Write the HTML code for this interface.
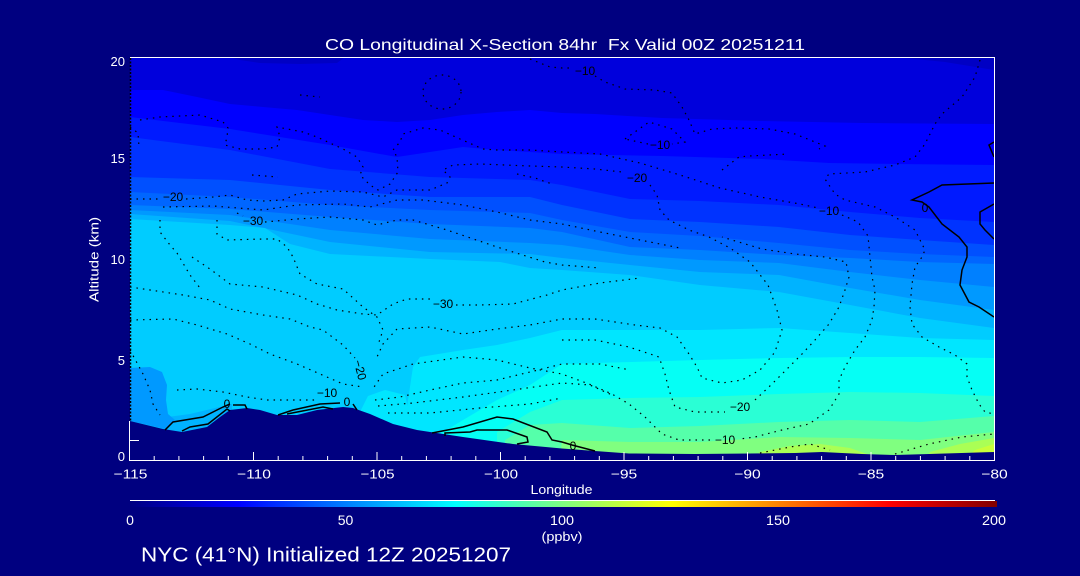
<!DOCTYPE html>
<html><head><meta charset="utf-8"><style>
html,body{margin:0;padding:0;background:#000080;}
svg{display:block;}
text{font-family:"Liberation Sans",sans-serif;}
</style></head><body>
<svg width="1080" height="576" viewBox="0 0 1080 576" xmlns="http://www.w3.org/2000/svg">
<defs>
<linearGradient id="jet" x1="0" x2="1" y1="0" y2="0">
<stop offset="0" stop-color="#000080"/><stop offset="0.125" stop-color="#0000ff"/><stop offset="0.375" stop-color="#00ffff"/><stop offset="0.625" stop-color="#ffff00"/><stop offset="0.875" stop-color="#ff0000"/><stop offset="1" stop-color="#800000"/>
</linearGradient>
<clipPath id="pc"><rect x="130" y="58" width="864" height="402"/></clipPath>
</defs>
<rect width="1080" height="576" fill="#000080"/>
<g clip-path="url(#pc)">
<rect x="130" y="58" width="864" height="402" fill="#0000dc"/>
<polygon fill="#0000c4" points="230,57 240,60 260,63 300,64 337,63 345,57"/>
<polygon fill="#0000c4" points="895,57 945,62 994,70 994,57"/>
<polygon fill="#0000ff" points="130,90 163,90 197,97 230,104 263,107 297,110 330,115 363,120 397,122 430,120 463,115 497,112 530,110 562,113 595,114 662,118 762,121 862,123 994,124 994,460 130,460"/>
<polygon fill="#001aff" points="130,117 230,129 330,145 397,157 430,152 463,147 497,150 562,154 662,156 762,159 829,163 895,164 994,165 994,460 130,460"/>
<polygon fill="#0033ff" points="130,137 230,150 330,169 430,177 530,180 562,185 630,199 700,201 779,205 850,212 920,218 994,222 994,460 130,460"/>
<polygon fill="#0050ff" points="130,177 230,180 330,190 430,197 530,197 562,205 630,219 700,222 779,227 850,235 920,240 994,245 994,460 130,460"/>
<polygon fill="#0066ff" points="130,192 230,197 330,205 430,210 530,213 562,220 630,232 700,236 779,243 850,250 920,254 994,257 994,460 130,460"/>
<polygon fill="#0080ff" points="130,205 230,209 330,217 430,224 530,228 562,232 630,247 700,250 779,255 850,258 920,262 994,264 994,460 130,460"/>
<polygon fill="#0099ff" points="130,210 230,215 330,230 430,239 530,243 562,245 630,255 700,260 779,263 850,272 920,280 994,287 994,460 130,460"/>
<polygon fill="#00b3ff" points="130,214 230,221 330,242 430,252 530,254 562,258 630,265 700,272 779,275 850,288 920,300 994,310 994,460 130,460"/>
<polygon fill="#00ccff" points="130,219 230,225 265,228 290,244 330,254 430,259 500,262 530,268 562,270 630,275 700,285 779,292 850,305 920,318 994,328 994,460 130,460"/>
<polygon fill="#00e6ff" points="405,460 405,432 408,400 413,367 420,357 463,350 497,345 530,338 562,330 630,330 700,330 779,328 850,333 920,338 994,340 994,460"/>
<polygon fill="#00e6ff" points="360,412 368,396 385,390 405,395 413,430 393,424 370,414"/>
<polygon fill="#05fff5" points="430,460 430,440 463,420 497,400 530,385 562,364 630,362 700,360 779,358 850,357 920,357 994,358 994,460"/>
<polygon fill="#2affd5" points="497,460 497,432 530,412 562,400 630,398 700,397 779,394 850,392 920,393 994,396 994,460"/>
<polygon fill="#55ffaa" points="505,460 505,440 530,425 562,423 630,428 700,426 779,422 850,420 920,422 994,416 994,460"/>
<polygon fill="#80ff80" points="560,460 562,440 630,442 700,442 779,437 850,438 920,440 994,432 994,460"/>
<polygon fill="#aaff55" points="750,460 760,452 790,446 820,444 850,448 870,455 875,460"/>
<polygon fill="#aaff55" points="925,460 930,452 960,444 994,438 994,460"/>
<polygon fill="#c8ff3a" points="965,460 975,450 994,444 994,460"/>
<polygon fill="#00b3ff" points="160,418 190,414 215,408 232,404 232,411 207,428 182,433 163,430"/>
<polygon fill="#0099ff" points="130,368 150,367 162,372 167,385 166,400 168,414 175,420 165,429 130,421"/>
<polygon fill="#000080" points="130,421 163,429 182,432 207,427 220,417 230,410 247,408 260,410 277,415 297,415 317,410 343,407 353,408 370,414 393,424 417,430 463,437 513,444 562,448.5 595,451 629,453.5 695,454 795,453 822,452 862,454 895,455 929,454 994,452 994,462 130,462"/>
<g fill="none" stroke="#000" stroke-width="1.2" stroke-dasharray="1.5 5">
<path d="M140,120 L160,117 L200,115 L223,122 L228,128 L227,137 L225,145 L240,149 L263,149 L277,147 L280,137 L277,127 L303,132 L317,137 L343,149 L357,157 L363,167 L360,175 L370,185 L378,190 L390,184 L398,172 L397,157 L393,150 L400,142 L403,134 L423,128 L440,130 L460,139 L483,149 L497,150 L530,150 L562,152 L600,154 L640,163 L680,175 L720,188 L760,197 L800,204 L818,208 M842,215 L858,222 L868,236 L870,257 L872,277 L875,290 L874,307 L872,320 L865,337 L855,350 L845,367 L839,380 L839,394 L829,410 L809,424 L782,430 L755,437 L740,439 M710,440 L679,440 L662,434 L645,417 L629,404 L612,394 L589,384 L562,374 L530,368 L497,360 L463,357 L413,364 L383,374 L372,390"/>
<path d="M130,199 L160,199 M186,199 L213,197 L230,195 L247,200 L263,201 L283,200 L297,194 L330,191 L363,192 L383,197 L397,190 L430,190 L447,183 L450,177 L443,170 L453,165 L480,164 L530,166 L562,167 L595,169 L622,172 M650,185 L657,195 L660,210 L669,220 L689,230 L709,237 L730,248 L750,262 L768,285 L777,310 L782,330 L775,352 L760,370 L742,380 L722,383 L702,378 L697,367 L689,354 L677,337 L660,328 L635,325 L595,319 L562,319 L530,325 L497,329 L463,334 L430,327 L397,329 L383,344 L377,357"/>
<path d="M980,60 L975,77 L962,97 L942,114 L935,124 L925,144 L915,157 L895,165 L865,172 L829,174 L825,179 L835,194 L845,200 L875,207 L895,217 L915,230 L925,250 L922,257 L915,267 L912,284 L910,307 L912,324 L922,337 L939,347 L955,355 L967,364 L967,377 L972,390 L979,404 L985,412 L994,414"/>
<path d="M562,340 L595,340 L629,347 L659,357 L665,374 L669,390 L675,407 L695,412 L725,412 M755,400 L772,384 L789,367 L802,354 L815,340 L829,324 L839,307 L845,290 L849,277 L846,262 L825,257 L795,254 L762,249 L722,237"/>
<path d="M163,207 L213,206 L263,210 L297,205 L343,204 L370,207 L397,200 L423,200 L463,205 L497,212 L530,220 L562,224 L600,232 L640,240 L680,248"/>
<path d="M237,213 L243,216 M265,222 L297,219 L330,217 L363,220 L377,225 L397,220 L413,220 L447,230 L497,247 L545,262 L562,265 L600,268"/>
<path d="M160,220 L160,232 L170,245 L177,253 L190,275 L200,288"/>
<path d="M217,220 L217,234 L227,240 L263,239 L277,239 L287,247 L293,257 L300,274 L317,284 L343,289 L363,307 L377,317 L383,330 L378,345"/>
<path d="M192,257 L210,269 L230,284 L263,287 L297,295 L317,304 L337,310 L363,314 L377,315 L393,304 L407,299 L430,299 M456,305 L480,305 L513,304 L547,295 L562,290 L600,283 L640,278"/>
<path d="M130,287 L150,290 L183,295 L210,300 L230,309 L263,315 L290,319 L310,327 L323,330 L343,345 L355,358"/>
<path d="M130,320 L173,319 L197,325 L227,334 L250,344 L270,354 L297,364 L320,374 L343,384 L363,387"/>
<path d="M130,350 L143,374 L150,390 L153,404 L160,415"/>
<path d="M177,390 L197,389 L223,392 L247,397 L267,400 L297,400 L318,400"/>
<path d="M375,400 L400,397 L430,390 L463,383 L497,380 L530,372 L562,364 L600,364 L630,370"/>
<path d="M378,406 L413,403 L463,397 L513,390 L562,383 L590,385 L612,395"/>
<path d="M388,413 L430,413 L480,408 L530,404 L562,398"/>
<path d="M760,453 L790,447 L810,444 L830,450 M895,454 L929,444 L962,437 L994,434"/>
<path d="M130,127 L138,133 L139,147"/>
<ellipse cx="442" cy="92" rx="19" ry="17"/>
<path d="M625,139 L649,122 L672,129 L685,142 L672,144 M648,144 L625,139"/>
<path d="M530,59 L550,67 L562,68 L572,68 M595,76 L605,82 L625,89 L655,90 L672,93 L682,107 L689,120 L695,134 L712,129 L735,128 L769,129 L795,134 L825,146 L819,149"/>
<path d="M300,95 L320,97 M252,175 L278,177 M517,174 L535,178 L552,184 M722,170 L739,157 L749,156 L789,154"/>
</g>
<g fill="none" stroke="#000" stroke-width="1.5">
<path d="M994,183 L942,185 L929,192 L912,200 L922,202 L929,207 L942,224 L959,237 L967,247 L967,257 L962,270 L960,285 L969,302 L979,307 L994,317"/>
<path d="M994,204 L980,212 L980,224 L985,230 L994,239"/>
<path d="M994,142 L989,145 L994,157"/>
<path d="M165,430 L173,422 L203,417 L223,407 L230,404 M182,431 L190,427 L208,424 L227,409 L230,411 M233,405 L245,405 L247,409"/>
<path d="M278,415 L293,410 L320,404 L340,403 M287,414 L323,407 L333,409 M353,404 L357,410"/>
<path d="M432,433 L463,427 L497,417 L513,419 L547,432 L552,440 L562,442 L572,445 L595,451 M445,436 L445,433 L470,432 L477,430 L507,430 L527,437 L528,442 L517,444"/>
</g>
<g font-size="12" fill="#000" text-anchor="middle">
<text x="173" y="201">−20</text>
<text x="253" y="225">−30</text>
<text x="443" y="308">−30</text>
<text x="360" y="374" transform="rotate(75 360 370)">−20</text>
<text x="327" y="397">−10</text>
<text x="347" y="406">0</text>
<text x="227" y="408">0</text>
<text x="660" y="149">−10</text>
<text x="585" y="75">−10</text>
<text x="637" y="182">−20</text>
<text x="829" y="215">−10</text>
<text x="925" y="212">0</text>
<text x="740" y="411">−20</text>
<text x="725" y="444">−10</text>
<text x="573" y="450">0</text>
</g>
</g>
<g stroke="#fff" stroke-width="1" fill="none">
<line x1="130" y1="57.5" x2="995" y2="57.5"/>
<line x1="994.5" y1="57" x2="994.5" y2="461"/>
<line x1="129.5" y1="421" x2="129.5" y2="461"/>
<line x1="129.5" y1="460.5" x2="995" y2="460.5"/>
<line x1="130" y1="440.5" x2="139" y2="440.5"/>
</g>
<line x1="130.5" y1="58" x2="130.5" y2="421" stroke="#000" stroke-width="1.5" stroke-dasharray="2 1.5"/>
<g stroke="#fff" stroke-width="1">
<path d="M253.5,452 V460 M377,452 V460 M500.5,452 V460 M624,452 V460 M747.5,452 V460 M871,452 V460"/>
<path d="M154.2,456 V460 M178.9,456 V460 M203.6,456 V460 M228.3,456 V460 M278.2,456 V460 M302.9,456 V460 M327.6,456 V460 M352.3,456 V460 M401.7,456 V460 M426.4,456 V460 M451.1,456 V460 M475.8,456 V460 M525.2,456 V460 M549.9,456 V460 M574.6,456 V460 M599.3,456 V460 M648.7,456 V460 M673.4,456 V460 M698.1,456 V460 M722.8,456 V460 M772.2,456 V460 M796.9,456 V460 M821.6,456 V460 M846.3,456 V460 M895.7,456 V460 M920.4,456 V460 M945.1,456 V460 M969.8,456 V460"/>
</g>
<g fill="#fff" font-size="13" text-anchor="middle">
<text x="130.5" y="478.5" textLength="34" lengthAdjust="spacingAndGlyphs">−115</text>
<text x="254" y="478.5" textLength="34" lengthAdjust="spacingAndGlyphs">−110</text>
<text x="377.5" y="478.5" textLength="34" lengthAdjust="spacingAndGlyphs">−105</text>
<text x="501" y="478.5" textLength="34" lengthAdjust="spacingAndGlyphs">−100</text>
<text x="624" y="478.5" textLength="26.5" lengthAdjust="spacingAndGlyphs">−95</text>
<text x="747.5" y="478.5" textLength="26.5" lengthAdjust="spacingAndGlyphs">−90</text>
<text x="871" y="478.5" textLength="26.5" lengthAdjust="spacingAndGlyphs">−85</text>
<text x="994.5" y="478.5" textLength="26.5" lengthAdjust="spacingAndGlyphs">−80</text>
</g>
<g fill="#fff" font-size="13" text-anchor="end">
<text x="125" y="66">20</text>
<text x="125" y="163">15</text>
<text x="125" y="264">10</text>
<text x="125" y="365">5</text>
<text x="125" y="461">0</text>
</g>
<text x="565" y="50" fill="#fff" font-size="16" text-anchor="middle" textLength="480" lengthAdjust="spacingAndGlyphs" xml:space="preserve">CO Longitudinal X-Section 84hr&#160; Fx Valid 00Z 20251211</text>
<text transform="translate(98.5,259.5) rotate(-90)" x="0" y="0" fill="#fff" font-size="13" text-anchor="middle" textLength="85" lengthAdjust="spacingAndGlyphs">Altitude (km)</text>
<text x="561.5" y="494" fill="#fff" font-size="13" text-anchor="middle" textLength="62" lengthAdjust="spacingAndGlyphs">Longitude</text>
<line x1="130" y1="500.5" x2="995" y2="500.5" stroke="#fff" stroke-width="1"/>
<rect x="130" y="501" width="867" height="6" fill="url(#jet)"/>
<g fill="#fff" font-size="14" text-anchor="middle">
<text x="130" y="525">0</text>
<text x="345.5" y="525">50</text>
<text x="562" y="525" textLength="24" lengthAdjust="spacingAndGlyphs">100</text>
<text x="778" y="525" textLength="24" lengthAdjust="spacingAndGlyphs">150</text>
<text x="994" y="525" textLength="24" lengthAdjust="spacingAndGlyphs">200</text>
<text x="562" y="541" font-size="13" textLength="41" lengthAdjust="spacingAndGlyphs">(ppbv)</text>
</g>
<text x="141" y="561.5" fill="#fff" font-size="20.5" textLength="370" lengthAdjust="spacingAndGlyphs">NYC (41°N) Initialized 12Z 20251207</text>
</svg>
</body></html>
